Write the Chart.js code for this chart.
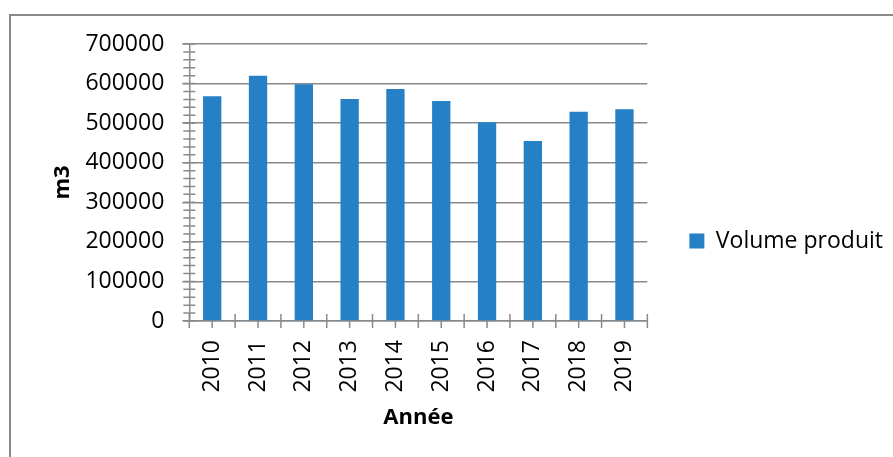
<!DOCTYPE html>
<html>
<head>
<meta charset="utf-8">
<script src="https://cdn.jsdelivr.net/npm/chart.js@4.4.1/dist/chart.umd.min.js"></script>
<style>
  html, body { margin: 0; padding: 0; background: #fff; overflow: hidden; }
  #frame { position: absolute; left: 9px; top: 14px; width: 1000px; height: 1000px;
           border-top: 2px solid #8a8a8a; border-left: 2px solid #8a8a8a; }
  #wrap { position: absolute; left: 0; top: 0; width: 893px; height: 457px; }
</style>
</head>
<body>
<div id="frame"></div>
<div id="wrap"><canvas id="myBarChart"></canvas></div>
<script>
// data
const years = ['2010', '2011', '2012', '2013', '2014', '2015', '2016', '2017', '2018', '2019'];
const volumes = [568000, 620000, 598000, 561000, 586000, 556000, 502000, 455000, 529000, 535000];
const seriesName = 'Volume produit';
const yMax = 700000;
const yStep = 100000;
const yMinorStep = 20000;

const axisGray = '#8a8a8a';
const barBlue = '#2680c5';

// little tick marks that cross the axes (minor ticks on y, ticks between/at categories on x)
const crossTicks = {
  id: 'crossTicks',
  beforeDatasetsDraw(chart) {
    const x = chart.scales.x, y = chart.scales.y;
    const ctx = chart.ctx;
    ctx.save();
    ctx.strokeStyle = axisGray;
    ctx.lineWidth = 1.5;
    ctx.beginPath();
    for (let v = 0; v <= yMax; v += yMinorStep) {
      const py = y.getPixelForValue(v);
      ctx.moveTo(x.left - 6, py);
      ctx.lineTo(x.left + 6, py);
    }
    const y0 = y.getPixelForValue(0);
    for (let i = -0.5; i <= years.length - 0.5; i += 0.5) {
      const px = x.getPixelForValue(i);
      ctx.moveTo(px, y0 - 7);
      ctx.lineTo(px, y0 + 7);
    }
    ctx.stroke();
    ctx.restore();
  }
};

function drawChart() {
  Chart.defaults.font.family = "'Open Sans', sans-serif";
  Chart.defaults.color = '#000';

  var ctx = document.getElementById('myBarChart');
  var myBarChart = new Chart(ctx, {
    type: 'bar',
    data: {
      labels: years,
      datasets: [{
        label: seriesName,
        backgroundColor: barBlue,
        borderWidth: 0,
        data: volumes,
        barPercentage: 0.4,
        categoryPercentage: 1.0
      }]
    },
    options: {
      responsive: true,
      maintainAspectRatio: false,
      animation: false,
      layout: { padding: { left: 50, top: 44, bottom: 19, right: 0 } },
      scales: {
        x: {
          grid: { display: false, drawTicks: false },
          border: { display: true, color: axisGray, width: 1.5 },
          ticks: { maxRotation: 90, minRotation: 90, padding: 19, font: { size: 23 } },
          // chart.js counts tick padding twice when sizing, so the title takes some back
          title: { display: true, text: 'Année', font: { size: 22, weight: 'bold' }, padding: { top: -7, bottom: 7 } }
        },
        y: {
          min: 0,
          max: yMax,
          grid: { color: axisGray, lineWidth: 1.5, tickLength: 7, drawTicks: true },
          border: { display: true, color: axisGray, width: 1.5 },
          ticks: { stepSize: yStep, padding: 18, font: { size: 23 }, callback: v => String(v) },
          title: { display: true, text: 'm3', font: { size: 22, weight: 'bold' }, padding: { top: 0, bottom: -9 } }
        }
      },
      plugins: {
        legend: {
          position: 'right',
          maxWidth: 400,
          labels: { boxWidth: 15, boxHeight: 15, padding: 42, font: { size: 23 } }
        },
        tooltip: { enabled: false }
      }
    },
    plugins: [crossTicks]
  });
}

// wait for the installed font so text gets measured right
Promise.all([
  document.fonts.load("23px 'Open Sans'"),
  document.fonts.load("bold 22px 'Open Sans'")
]).then(drawChart, drawChart);
</script>
</body>
</html>
